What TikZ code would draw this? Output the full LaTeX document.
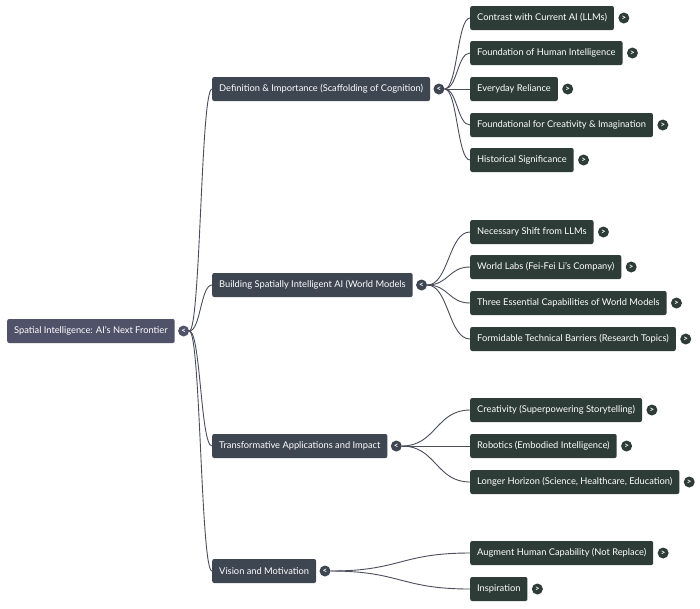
\documentclass[tikz,border=0pt]{standalone}
\usepackage{fontspec}
\setmainfont{Lato}
\usetikzlibrary{calc,positioning}
\definecolor{rootfill}{HTML}{50526A}
\definecolor{topicfill}{HTML}{3E4652}
\definecolor{leaffill}{HTML}{2E3C38}
\definecolor{linkcol}{HTML}{4B4D5C}
\tikzset{
  box/.style={rounded corners=2pt, text=white, font=\fontsize{9.3}{11}\selectfont, minimum height=24pt, inner xsep=7pt, anchor=west},
  root/.style={box, fill=rootfill},
  topic/.style={box, fill=topicfill},
  leaf/.style={box, fill=leaffill},
  knob/.style={circle, inner sep=0pt, minimum size=11pt, text=white, font=\fontsize{8}{8}\selectfont\bfseries},
  link/.style={draw=linkcol, line width=0.9pt, to path={let \p1=(\tikztostart), \p2=(\tikztotarget) in .. controls ({0.5*\x1+0.5*\x2},\y1) and ({0.5*\x1+0.5*\x2},\y2) .. (\tikztotarget)}}
}
\begin{document}
\begin{tikzpicture}[x=1pt, y=-1pt]
	  \useasboundingbox (0,0) rectangle (700,608);
	  \node[root] (r) at (7,331) {Spatial Intelligence: AI’s Next Frontier};
	  \node[knob, fill=rootfill, right=3pt of r] (rk) {<};
	  
	  \node[topic] (d) at (212,89) {Definition \& Importance (Scaffolding of Cognition)};
	  \node[topic] (b) at (212,285) {Building Spatially Intelligent AI (World Models};
	  \node[topic] (t) at (212,446) {Transformative Applications and Impact};
	  \node[topic] (v) at (212,571) {Vision and Motivation};
	  \node[knob, fill=topicfill, right=3pt of d] (dk) {<};
	  \node[knob, fill=topicfill, right=3pt of b] (bk) {<};
	  \node[knob, fill=topicfill, right=3pt of t] (tk) {<};
	  \node[knob, fill=topicfill, right=3pt of v] (vk) {<};
	  
	  \node[leaf] (d1) at (470,18) {Contrast with Current AI (LLMs)};
	  \node[leaf] (d2) at (470,53) {Foundation of Human Intelligence};
	  \node[leaf] (d3) at (470,89) {Everyday Reliance};
	  \node[leaf] (d4) at (470,125) {Foundational for Creativity \& Imagination};
	  \node[leaf] (d5) at (470,160) {Historical Significance};
	  \node[leaf] (b1) at (470,232) {Necessary Shift from LLMs};
	  \node[leaf] (b2) at (470,267) {World Labs (Fei-Fei Li’s Company)};
	  \node[leaf] (b3) at (470,303) {Three Essential Capabilities of World Models};
	  \node[leaf] (b4) at (470,339) {Formidable Technical Barriers (Research Topics)};
	  \node[leaf] (t1) at (470,410) {Creativity (Superpowering Storytelling)};
	  \node[leaf] (t2) at (470,446) {Robotics (Embodied Intelligence)};
	  \node[leaf] (t3) at (470,482) {Longer Horizon (Science, Healthcare, Education)};
	  \node[leaf] (v1) at (470,553) {Augment Human Capability (Not Replace)};
	  \node[leaf] (v2) at (470,589) {Inspiration};
	  
	  \node[knob, fill=leaffill, right=4pt of d1] (d1k) {>};
	  \node[knob, fill=leaffill, right=4pt of d2] (d2k) {>};
	  \node[knob, fill=leaffill, right=4pt of d3] (d3k) {>};
	  \node[knob, fill=leaffill, right=4pt of d4] (d4k) {>};
	  \node[knob, fill=leaffill, right=4pt of d5] (d5k) {>};
	  \node[knob, fill=leaffill, right=4pt of b1] (b1k) {>};
	  \node[knob, fill=leaffill, right=4pt of b2] (b2k) {>};
	  \node[knob, fill=leaffill, right=4pt of b3] (b3k) {>};
	  \node[knob, fill=leaffill, right=4pt of b4] (b4k) {>};
	  \node[knob, fill=leaffill, right=4pt of t1] (t1k) {>};
	  \node[knob, fill=leaffill, right=4pt of t2] (t2k) {>};
	  \node[knob, fill=leaffill, right=4pt of t3] (t3k) {>};
	  \node[knob, fill=leaffill, right=4pt of v1] (v1k) {>};
	  \node[knob, fill=leaffill, right=4pt of v2] (v2k) {>};
	  
	  \draw[link] (rk.east) to (d.west);
	  \draw[link] (rk.east) to (b.west);
	  \draw[link] (rk.east) to (t.west);
	  \draw[link] (rk.east) to (v.west);
	  
	  \draw[link] (dk.east) to (d1.west);
	  \draw[link] (dk.east) to (d2.west);
	  \draw[link] (dk.east) to (d3.west);
	  \draw[link] (dk.east) to (d4.west);
	  \draw[link] (dk.east) to (d5.west);
	  \draw[link] (bk.east) to (b1.west);
	  \draw[link] (bk.east) to (b2.west);
	  \draw[link] (bk.east) to (b3.west);
	  \draw[link] (bk.east) to (b4.west);
	  \draw[link] (tk.east) to (t1.west);
	  \draw[link] (tk.east) to (t2.west);
	  \draw[link] (tk.east) to (t3.west);
	  \draw[link] (vk.east) to (v1.west);
	  \draw[link] (vk.east) to (v2.west);
	\end{tikzpicture}
\end{document}
